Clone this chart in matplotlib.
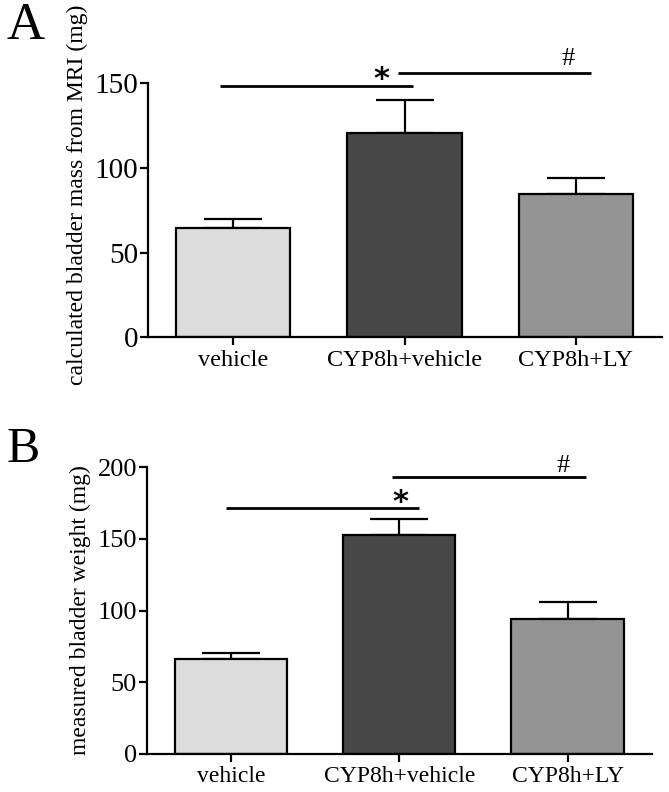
import numpy as np
import matplotlib
matplotlib.use("Agg")
import matplotlib.pyplot as plt

# data
groups = ["vehicle", "CYP8h+vehicle", "CYP8h+LY"]
colors = ["#dcdcdc", "#474747", "#939393"]

mri_mean = [64.5, 120.8, 84.8]
mri_sem = [5.2, 19.5, 9.1]

weight_mean = [66.3, 153.0, 94.2]
weight_sem = [4.0, 10.8, 12.1]

# significance brackets: (x start, x end, y)
mri_lines = [(-0.08, 1.05, 148.4), (0.96, 2.09, 156.1)]
weight_lines = [(-0.03, 1.12, 171.7), (0.96, 2.11, 193.5)]
# markers: (text, x, y)
mri_marks = [("*", 0.864, 152.2), ("#", 1.953, 164.5)]
weight_marks = [("*", 1.005, 175.6), ("#", 1.973, 201.0)]

plt.rcParams['font.family'] = ['Liberation Serif', 'DejaVu Serif']

fig = plt.figure(figsize=(6.69, 7.92), dpi=100)

axA = fig.add_axes([0.2208, 0.5741, 0.768, 0.3207])
axB = fig.add_axes([0.2193, 0.0480, 0.7549, 0.3620])


def draw_panel(ax, means, sems, lines, marks, ymax, ystep, tick_fs, xtick_fs):
    x = np.arange(len(groups))
    ax.bar(x, means, width=0.667, color=colors, edgecolor="black", linewidth=1.6, zorder=2)
    ax.errorbar(x, means, yerr=[np.zeros(len(sems)), sems], fmt="none",
                ecolor="black", elinewidth=1.6, capsize=21, capthick=1.6, zorder=1)
    for x0, x1, y in lines:
        ax.plot([x0, x1], [y, y], color="black", lw=2.0, clip_on=False, solid_capstyle="butt")
    for txt, mx, my in marks:
        if txt == "*":
            ax.text(mx, my, txt, ha="center", va="center", fontsize=22, fontweight="bold",
                    family=['DejaVu Sans'], clip_on=False)
        else:
            ax.text(mx, my, txt, ha="center", va="center", fontsize=19, clip_on=False)
    ax.set_xlim(-0.5, 2.5)
    ax.set_ylim(0, ymax)
    ax.set_yticks(np.arange(0, ymax + 1, ystep))
    ax.set_xticks(x)
    ax.set_xticklabels(groups, fontsize=xtick_fs)
    for lab in ax.get_yticklabels():
        lab.set_fontsize(tick_fs)
    ax.spines["top"].set_visible(False)
    ax.spines["right"].set_visible(False)
    ax.spines["left"].set_linewidth(1.6)
    ax.spines["bottom"].set_linewidth(1.6)
    ax.tick_params(axis="both", direction="out", length=6, width=1.6)
    ax.tick_params(axis="y", pad=1)
    ax.tick_params(axis="x", pad=3)


draw_panel(axA, mri_mean, mri_sem, mri_lines, mri_marks, 150, 50, 21, 17.5)
draw_panel(axB, weight_mean, weight_sem, weight_lines, weight_marks, 200, 50, 19, 17)

fig.text(77 / 669, 1 - 195 / 792, "calculated bladder mass from MRI (mg)",
         rotation=90, ha="center", va="center", fontsize=17)
fig.text(80 / 669, 1 - 610 / 792, "measured bladder weight (mg)",
         rotation=90, ha="center", va="center", fontsize=17)

fig.text(26 / 669, 1 - 26 / 792, "A", ha="center", va="center", fontsize=38)
fig.text(23 / 669, 1 - 450 / 792, "B", ha="center", va="center", fontsize=36)

fig.savefig("out.png", dpi=100)
